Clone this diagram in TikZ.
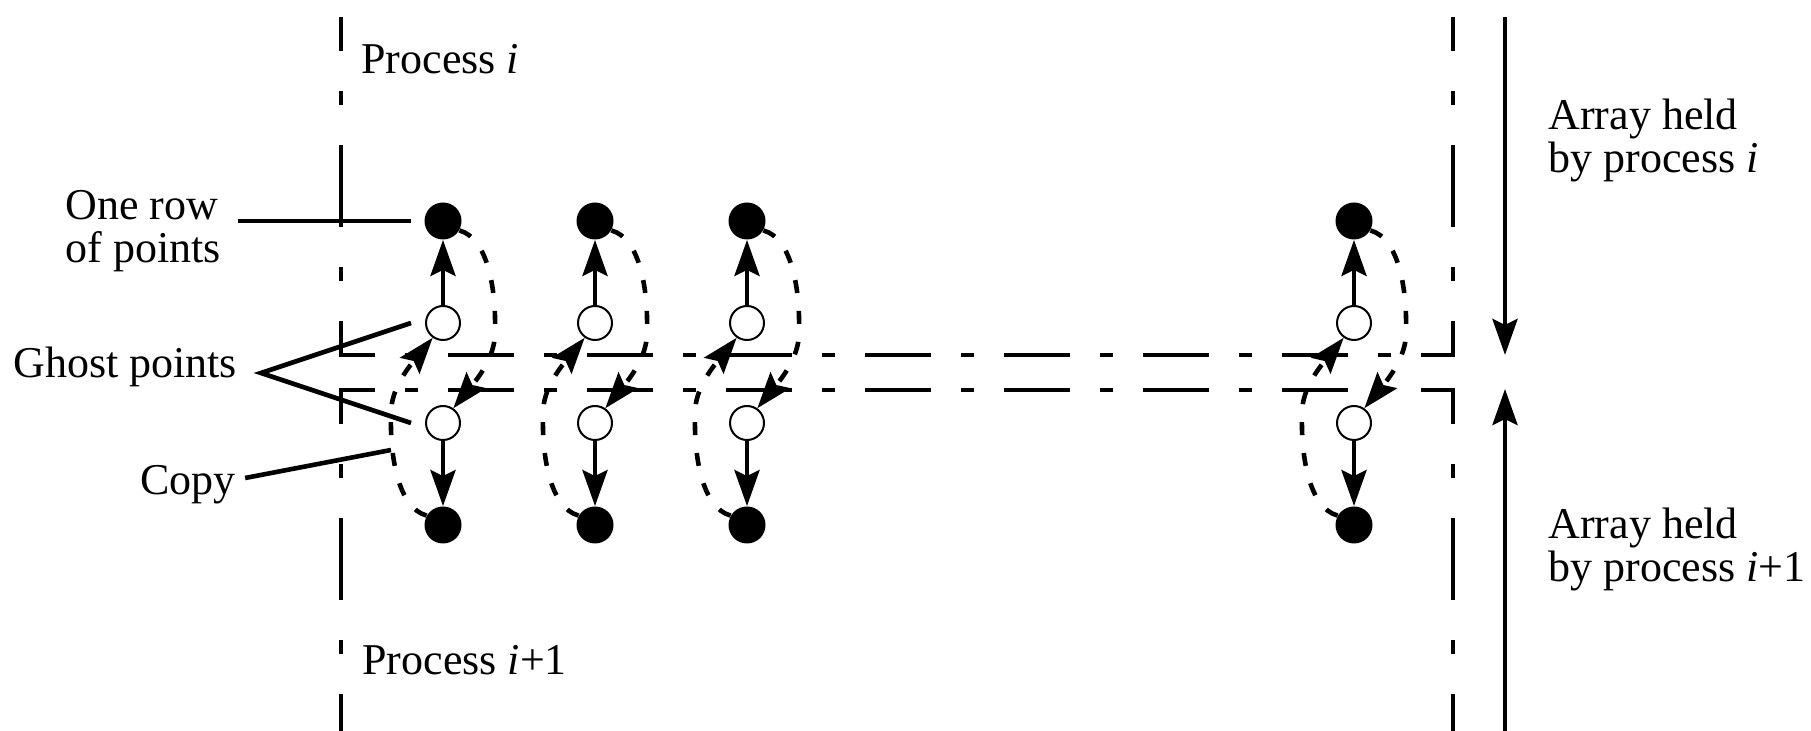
\documentclass[tikz,border=0pt]{standalone}
\usepackage{fontspec}
\setmainfont{Liberation Serif}
\usetikzlibrary{arrows.meta,calc}
\begin{document}
\begin{tikzpicture}[x=0.5pt,y=-0.5pt,
  lbl/.style={inner sep=0pt, anchor=base west, font=\fontsize{22pt}{21.5pt}\selectfont},
  ln/.style={line width=2.3pt},
  vbound/.style={ln, dash pattern=on 41pt off 20pt on 7pt off 20pt, dash phase=24pt},
  hbound/.style={ln, dash pattern=on 33pt off 15pt on 6.5pt off 15pt, dash phase=15pt},
  tip/.style={-{Stealth[length=18pt,width=12.5pt,inset=3pt]}},
  realpt/.style={circle, fill=black, minimum size=18.5pt, inner sep=0pt},
  ghostpt/.style={circle, draw=black, fill=white, line width=1pt, minimum size=17pt, inner sep=0pt},
  copyarc/.style={ln, dash pattern=on 6.5pt off 9pt, tip},
]
\useasboundingbox (0,0) rectangle (1811,731);

% process boundaries
\coordinate (TLtop) at (341,17);  \coordinate (TLc) at (341,355);
\coordinate (TRtop) at (1453,17); \coordinate (TRc) at (1453,355);
\coordinate (BLbot) at (341,731); \coordinate (BLc) at (341,390);
\coordinate (BRbot) at (1453,731);\coordinate (BRc) at (1453,390);
\draw[vbound] (TLc) -- (TLtop);
\draw[vbound] (TRc) -- (TRtop);
\draw[hbound] ($(TLc)+(-2,0)$) -- ($(TRc)+(2,0)$);
\draw[vbound] (BLc) -- (BLbot);
\draw[vbound] (BRc) -- (BRbot);
\draw[hbound] ($(BLc)+(-2,0)$) -- ($(BRc)+(2,0)$);

% extent arrows
\coordinate (aTop) at (1505,17);  \coordinate (aMidT) at (1505,355);
\coordinate (aBot) at (1505,731); \coordinate (aMidB) at (1505,389);
\draw[ln,tip] (aTop) -- (aMidT);
\draw[ln,tip] (aBot) -- (aMidB);

% columns of points
\foreach \n/\X in {1/443, 2/595, 3/747, 4/1354} {
  \node[realpt] (t\n) at (\X,221) {};
  \node[ghostpt] (u\n) at (\X,323) {};
  \node[ghostpt] (l\n) at (\X,423) {};
  \node[realpt] (b\n) at (\X,525) {};
  \draw[ln,tip] (u\n) -- (t\n);
  \draw[ln,tip] (l\n) -- (b\n);
  \draw[copyarc] (t\n.-30) .. controls (\X+45,238) and (\X+53,290) .. (\X+52,330)
                 .. controls (\X+53,352) and (\X+40,372) .. (l\n.55);
  \draw[copyarc] (b\n.150) .. controls (\X-45,508) and (\X-53,456) .. (\X-52,416)
                 .. controls (\X-53,394) and (\X-40,374) .. (u\n.235);
}

% labels
\node[lbl] (pi)  at (361,74)   {Process \textit{i}};
\node[lbl] (pi1) at (362,675)  {Process \textit{i}+1};
\node[lbl] (ah1) at (1548,130) {Array held};
\node[lbl] (bp1) at (1548,173) {by process \textit{i}};
\node[lbl] (ah2) at (1548,539) {Array held};
\node[lbl] (bp2) at (1548,582) {by process \textit{i}+1};
\node[lbl] (or1) at (65,220)   {One row};
\node[lbl] (or2) at (65,263)   {of points};
\node[lbl] (gp)  at (13,378)   {Ghost points};
\node[lbl] (cp)  at (140,495)  {Copy};

% label connectors
\draw[ln] ($(or1.base east)+(19,1)$) -- ([xshift=-6.5pt]t1.west);
\coordinate (gapex) at (261,373);
\draw[ln] ([xshift=-7pt]u1.west) -- (gapex) -- ([xshift=-7pt]l1.west);
\coordinate (cpend) at (391,450);
\draw[ln] ($(cp.base east)+(9,-17)$) -- (cpend);
\end{tikzpicture}
\end{document}
